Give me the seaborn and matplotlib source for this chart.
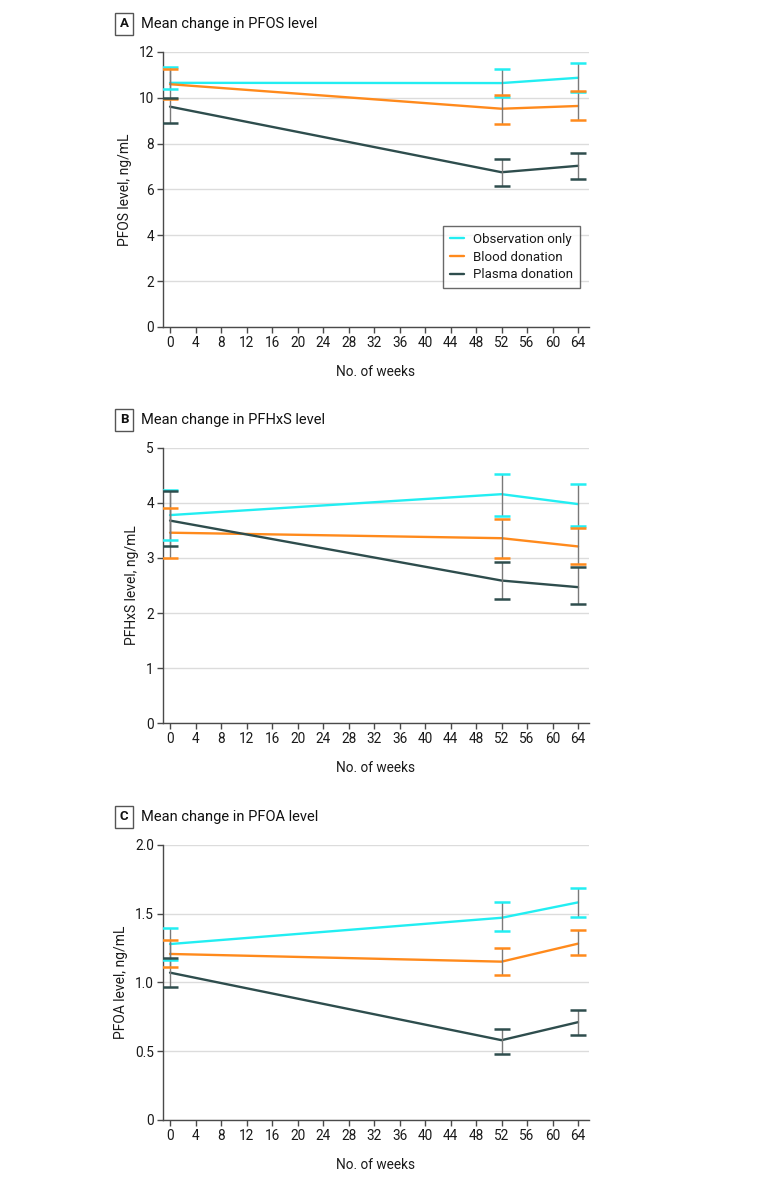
import numpy as np
import pandas as pd
import matplotlib
matplotlib.use("Agg")
import matplotlib.pyplot as plt
import seaborn as sns
from matplotlib.lines import Line2D

weeks = [0, 52, 64]
groups = ["Observation only", "Blood donation", "Plasma donation"]

# Panel A: PFOS
pfos_mean = {"Observation only": [10.65, 10.64, 10.87],
             "Blood donation": [10.59, 9.52, 9.64],
             "Plasma donation": [9.61, 6.75, 7.03]}
pfos_lo = {"Observation only": [10.36, 10.04, 10.26],
           "Blood donation": [9.94, 8.86, 9.03],
           "Plasma donation": [8.90, 6.16, 6.46]}
pfos_hi = {"Observation only": [11.35, 11.25, 11.52],
           "Blood donation": [11.26, 10.12, 10.30],
           "Plasma donation": [10.01, 7.32, 7.61]}

# Panel B: PFHxS
pfhxs_mean = {"Observation only": [3.78, 4.16, 3.98],
              "Blood donation": [3.46, 3.36, 3.21],
              "Plasma donation": [3.68, 2.59, 2.47]}
pfhxs_lo = {"Observation only": [3.32, 3.77, 3.59],
            "Blood donation": [3.00, 3.00, 2.89],
            "Plasma donation": [3.22, 2.25, 2.16]}
pfhxs_hi = {"Observation only": [4.24, 4.53, 4.35],
            "Blood donation": [3.91, 3.70, 3.55],
            "Plasma donation": [4.22, 2.92, 2.83]}

# Panel C: PFOA
pfoa_mean = {"Observation only": [1.279, 1.470, 1.582],
             "Blood donation": [1.207, 1.151, 1.282],
             "Plasma donation": [1.071, 0.580, 0.711]}
pfoa_lo = {"Observation only": [1.163, 1.371, 1.475],
           "Blood donation": [1.110, 1.054, 1.197],
           "Plasma donation": [0.965, 0.481, 0.619]}
pfoa_hi = {"Observation only": [1.395, 1.584, 1.688],
           "Blood donation": [1.306, 1.250, 1.378],
           "Plasma donation": [1.180, 0.660, 0.796]}

panels = [
    ("A", "Mean change in PFOS level", "PFOS level, ng/mL", pfos_mean, pfos_lo, pfos_hi,
     [0, 2, 4, 6, 8, 10, 12], ["0", "2", "4", "6", "8", "10", "12"], 12),
    ("B", "Mean change in PFHxS level", "PFHxS level, ng/mL", pfhxs_mean, pfhxs_lo, pfhxs_hi,
     [0, 1, 2, 3, 4, 5], ["0", "1", "2", "3", "4", "5"], 5),
    ("C", "Mean change in PFOA level", "PFOA level, ng/mL", pfoa_mean, pfoa_lo, pfoa_hi,
     [0, 0.5, 1.0, 1.5, 2.0], ["0", "0.5", "1.0", "1.5", "2.0"], 2.0),
]
xticks = list(range(0, 65, 4))

palette = {"Observation only": "#22EEF2",
           "Blood donation": "#FF8A1C",
           "Plasma donation": "#2E4D4D"}

sns.set_theme(style="white")
plt.rcParams["font.family"] = ["Roboto", "DejaVu Sans"]

TXT = "#1A1A1A"
fig = plt.figure(figsize=(7.8, 11.82), dpi=100)
positions = [0.7234, 0.3883, 0.0525]
height = 0.2327
left, width = 0.209, 0.546

for (letter, title, ylabel, mean, lo, hi, yt, ytl, ymax), bottom in zip(panels, positions):
    ax = fig.add_axes([left, bottom, width, height])
    rows = []
    for g in groups:
        for w, m in zip(weeks, mean[g]):
            rows.append({"week": w, "value": m, "group": g})
    df = pd.DataFrame(rows)
    sns.lineplot(data=df, x="week", y="value", hue="group", hue_order=groups,
                 palette=palette, linewidth=1.7, ax=ax, legend=False, zorder=3)
    for g in groups:
        ax.vlines(weeks, lo[g], hi[g], color="#7A7A7A", linewidth=1.0, zorder=4)
    for g in groups:
        for arr in (lo[g], hi[g]):
            ax.plot(weeks, arr, ls="", marker="_", markersize=11, markeredgewidth=1.8,
                    color=palette[g], zorder=5)
    ax.set_xlim(-1.1, 65.7)
    ax.set_ylim(0, ymax)
    ax.set_xticks(xticks)
    ax.set_xticklabels([str(t) for t in xticks], fontsize=9.8, color=TXT)
    ax.set_yticks(yt)
    ax.set_yticklabels(ytl, fontsize=9.8, color=TXT)
    ax.yaxis.grid(True, color="#DCDCDC", linewidth=1.0)
    ax.set_axisbelow(True)
    for s in ["top", "right"]:
        ax.spines[s].set_visible(False)
    for s in ["left", "bottom"]:
        ax.spines[s].set_color("#4A4A4A")
        ax.spines[s].set_linewidth(1.0)
    ax.tick_params(axis="both", which="both", direction="out", length=4, width=1,
                   color="#4A4A4A", pad=2.5, left=True, bottom=True)
    ax.set_xlabel("No. of weeks", fontsize=9.8, color=TXT, labelpad=11)
    ax.set_ylabel(ylabel, fontsize=10, color=TXT, labelpad=5)
    # Panel heading
    top_px = (1 - (bottom + height)) * 1182
    fig.text(124 / 780, 1 - (top_px - 28) / 1182, letter, fontsize=9.5, fontweight="bold",
             ha="center", va="center", color="#111111",
             bbox=dict(boxstyle="square,pad=0.35", fc="white", ec="#555555", lw=1))
    fig.text(141 / 780, 1 - (top_px - 28) / 1182, title, fontsize=10.5,
             ha="left", va="center", color="#111111")
    if letter == "A":
        handles = [Line2D([0], [0], color=palette[g], lw=1.7) for g in groups]
        leg = ax.legend(handles, groups, loc="lower right", bbox_to_anchor=(0.979, 0.142),
                        frameon=True, fancybox=False, fontsize=9.5, handlelength=1.1,
                        borderpad=0.5, labelspacing=0.35, handletextpad=0.7,
                        borderaxespad=0)
        leg.get_frame().set_edgecolor("#444444")
        leg.get_frame().set_linewidth(1.0)
        for t in leg.get_texts():
            t.set_color(TXT)

fig.savefig("out.png", dpi=100, facecolor="white")
